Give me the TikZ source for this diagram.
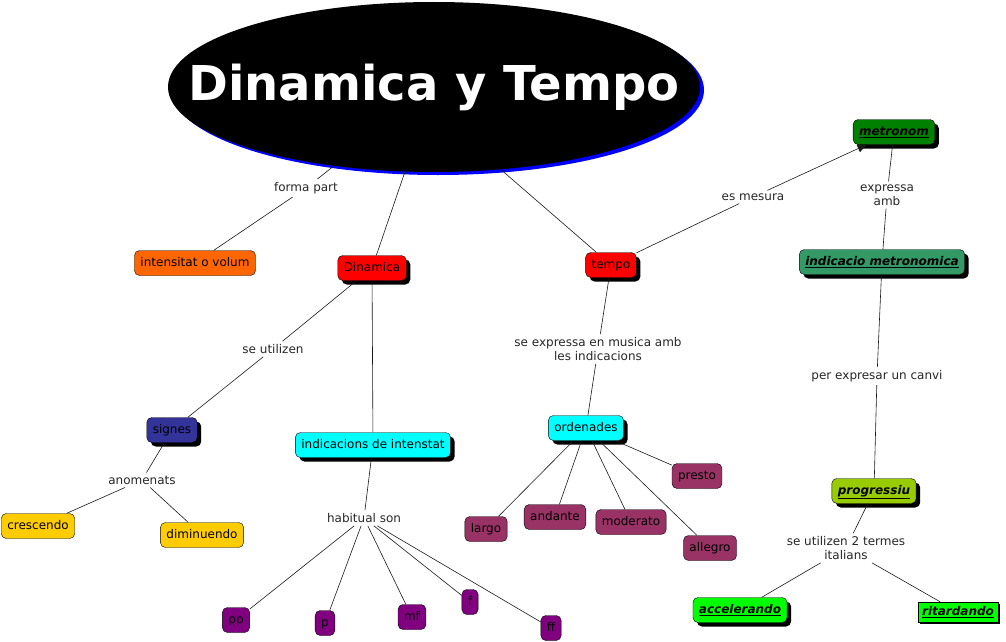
\documentclass[tikz,border=0pt]{standalone}
\usepackage{fontspec}
\setmainfont{DejaVu Sans}
\usetikzlibrary{positioning, arrows.meta, shapes.geometric, shadows}

\definecolor{volumorange}{HTML}{FF6600}
\definecolor{mainred}{HTML}{FF0000}
\definecolor{metrogreen}{HTML}{008000}
\definecolor{indicgreen}{HTML}{339966}
\definecolor{signesblue}{HTML}{333399}
\definecolor{ordcyan}{HTML}{00FFFF}
\definecolor{crescyellow}{HTML}{FFCC00}
\definecolor{dynpurple}{HTML}{800080}
\definecolor{tempomaroon}{HTML}{993366}
\definecolor{progolive}{HTML}{99CC00}
\definecolor{italgreen}{HTML}{00FF00}

\tikzset{
  concept/.style={draw=black, rounded corners=5pt, inner xsep=6pt, inner ysep=0pt,
    minimum height=25pt, text height=9pt, text depth=2.5pt,
    font=\fontsize{12}{14}\selectfont},
  shadowed/.style={drop shadow={fill=black, opacity=1, shadow xshift=4pt, shadow yshift=-4pt}},
  linkword/.style={inner sep=3pt, align=center, text=black!85,
    font=\fontsize{12}{14}\selectfont},
  link/.style={draw=black!90, line width=0.6pt},
}
\newcommand{\linkterm}[1]{\underline{\textbf{\textit{#1}}}}

\begin{document}
\begin{tikzpicture}[x=1pt, y=-1pt]
        \useasboundingbox (0,0) rectangle (1006,642);
        % title
        \node[ellipse, fill=black, minimum width=532pt, minimum height=170pt, inner sep=0pt,
          drop shadow={fill=blue, opacity=1, shadow xshift=4pt, shadow yshift=-3pt}] (title) at (434,87) {};
        \node[text=white, font=\fontsize{48}{56}\selectfont\bfseries] (titletext) at (title) {Dinamica y Tempo};
        % concepts
        \node[concept, fill=volumorange] (volum) at (195,263) {intensitat o volum};
        \node[concept, shadowed, fill=mainred] (dinamica) at (372,268) {Dinamica};
        \node[concept, shadowed, fill=mainred] (tempo) at (611,265) {tempo};
        \node[concept, shadowed, fill=metrogreen] (metronom) at (894,132) {\linkterm{metronom}};
        \node[concept, shadowed, fill=indicgreen] (metroind) at (882,262) {\linkterm{indicacio metronomica}};
        \node[concept, shadowed, fill=signesblue] (signes) at (172,430) {signes};
        \node[concept, shadowed, fill=ordcyan] (intenstat) at (373,445) {indicacions de intenstat};
        \node[concept, shadowed, fill=ordcyan] (ordenades) at (586,428) {ordenades};
        \node[concept, fill=crescyellow] (crescendo) at (38,526) {crescendo};
        \node[concept, fill=crescyellow] (diminuendo) at (202,535) {diminuendo};
        \node[concept, fill=dynpurple] (dynpp) at (236,620) {pp};
        \node[concept, fill=dynpurple] (dynp) at (325,623) {p};
        \node[concept, fill=dynpurple] (dynmf) at (412,617) {mf};
        \node[concept, fill=dynpurple] (dynf) at (470,602) {f};
        \node[concept, fill=dynpurple] (dynff) at (551,628) {ff};
        \node[concept, fill=tempomaroon] (largo) at (486,529) {largo};
        \node[concept, fill=tempomaroon] (andante) at (555,517) {andante};
        \node[concept, fill=tempomaroon] (moderato) at (631,522) {moderato};
        \node[concept, fill=tempomaroon] (presto) at (697,476) {presto};
        \node[concept, fill=tempomaroon] (allegro) at (710,548) {allegro};
        \node[concept, shadowed, fill=progolive] (progressiu) at (874,491) {\linkterm{progressiu}};
        \node[concept, shadowed, fill=italgreen] (accelerando) at (740,610) {\linkterm{accelerando}};
        \node[concept, sharp corners, minimum height=20pt, inner xsep=4pt, fill=italgreen,
          drop shadow={fill=black, opacity=1, shadow xshift=2pt, shadow yshift=-2pt}] (ritardando) at (958,612) {\linkterm{ritardando}};
        % linking words
        \node[linkword] (formapart) at (306,188) {forma part};
        \node[linkword] (utilizen) at (273,349) {se utilizen};
        \node[linkword] (mesura) at (753,197) {es mesura};
        \node[linkword] (expressa) at (887,195) {expressa\\amb};
        \node[linkword] (musica) at (598,349) {se expressa en musica amb\\les indicacions};
        \node[linkword] (canvi) at (877,376) {per expresar un canvi};
        \node[linkword] (anomenats) at (142,480) {anomenats};
        \node[linkword] (habitual) at (364,518) {habitual son};
        \node[linkword] (italians) at (846,548) {se utilizen 2 termes\\italians};
        % connectors
        \draw[link] (title) -- (formapart) -- (volum);
        \draw[link] (title) -- (dinamica);
        \draw[link] (title.-51) -- (tempo);
        \draw[link] (tempo) -- (mesura);
        \draw[link, -{Triangle[length=9pt, width=8pt]}] (mesura) -- (metronom);
        \draw[link] (metronom) -- (expressa) -- (metroind);
        \draw[link] (metroind) -- (canvi) -- (progressiu);
        \draw[link] (progressiu) -- (italians);
        \foreach \term in {accelerando, ritardando}
          \draw[link] (italians) -- (\term);
        \draw[link] (dinamica) -- (utilizen) -- (signes);
        \draw[link] (dinamica) -- (intenstat);
        \draw[link] (signes) -- (anomenats);
        \foreach \term in {crescendo, diminuendo}
          \draw[link] (anomenats) -- (\term);
        \draw[link] (intenstat) -- (habitual);
        \foreach \term in {dynpp, dynp, dynmf, dynf, dynff}
          \draw[link] (habitual) -- (\term);
        \draw[link] (tempo) -- (musica) -- (ordenades);
        \foreach \term in {largo, andante, moderato, presto, allegro}
          \draw[link] (ordenades) -- (\term);
     \end{tikzpicture}
\end{document}
